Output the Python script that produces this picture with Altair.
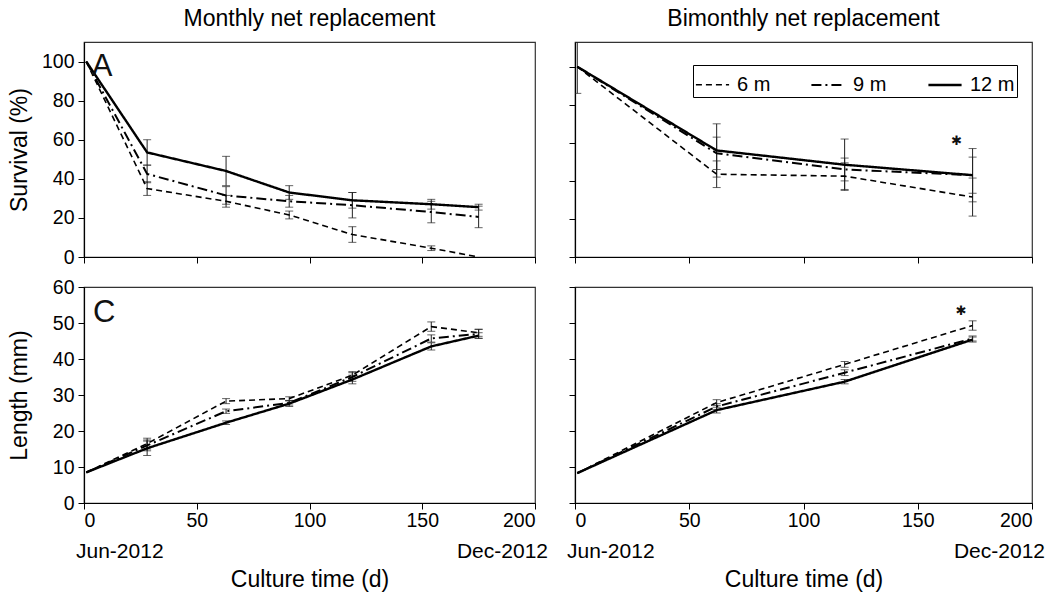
import altair as alt
import pandas as pd

FONT = "Liberation Sans"
series = ["6 m", "9 m", "12 m"]

# ---- Survival, monthly net replacement (A)
days_m = [1, 28, 63, 91, 119, 154, 175]
surv_m_6 = [100, 35, 28.5, 21.5, 11.5, 4.5, 0]
surv_m_9 = [100, 42.5, 31.5, 28.5, 26.5, 23, 20.5]
surv_m_12 = [100, 53.5, 44, 33, 29, 27, 25.5]
surv_m_6_err = [0, 3.5, 3, 2, 4, 1.2, 0]
surv_m_9_err = [0, 4.5, 4.5, 3, 6.5, 5.5, 5.5]
surv_m_12_err = [0, 6.5, 7.5, 3.5, 4, 2.5, 1.5]

# ---- Survival, bimonthly net replacement
days_b = [1, 62, 118, 174]
surv_b_6 = [100, 43.5, 42.5, 31.5]
surv_b_9 = [100, 54.5, 46, 43]
surv_b_12 = [100, 56, 48.5, 43]
surv_b_6_err = [0, 7, 7, 10]
surv_b_9_err = [0, 8.5, 6, 9.5]
surv_b_12_err = [14, 14, 13.5, 14]

# ---- Length, monthly (C)
len_m_6 = [8.5, 16.5, 28.3, 29, 35.5, 49, 47.3]
len_m_9 = [8.5, 16, 25.5, 27.8, 35, 45.7, 47]
len_m_12 = [8.5, 15.2, 22.3, 27.6, 34.3, 43.5, 46.5]
len_m_6_err = [0, 1.5, 0.7, 0.5, 1, 1.3, 1]
len_m_9_err = [0, 1.5, 0.6, 0.6, 1.2, 1, 1.2]
len_m_12_err = [0, 2, 0.5, 0.8, 1.2, 1, 0.8]

# ---- Length, bimonthly
len_b_6 = [8.3, 27.9, 38.5, 49.3]
len_b_9 = [8.3, 26.8, 36.2, 45.7]
len_b_12 = [8.3, 25.8, 33.7, 45.4]
len_b_6_err = [0, 0.8, 0.8, 1.3]
len_b_9_err = [0, 0.8, 0.8, 0.7]
len_b_12_err = [0, 0.8, 0.6, 0.7]

# annotations
letters = ["A", "C"]
letter_days = [8, 9]
letter_vals = [97, 52.8]
star_days = [167, 169]
star_vals = [61, 53.3]
date_labels = ["Jun-2012", "Dec-2012"]
date_days = [0, 200]
x_ticks = [0, 50, 100, 150, 200]


def long_df(days, vals, errs):
    rows = []
    for s, v, e in zip(series, vals, errs):
        for d, y, er in zip(days, v, e):
            rows.append(dict(depth=s, day=d, value=y, lo=y - er, hi=y + er, err=er))
    return pd.DataFrame(rows)


dash_enc = alt.StrokeDash(
    "depth:N",
    scale=alt.Scale(domain=series, range=[[6, 4], [10, 4, 2, 4], [1, 0]]),
    legend=alt.Legend(
        orient="none", legendX=609, legendY=23, direction="horizontal", title=None,
        strokeColor="black", fillColor="white", padding=2,
        labelFontSize=20, labelFont=FONT, labelColor="black",
        symbolType="stroke", symbolSize=1100, symbolStrokeWidth=2,
        symbolStrokeColor="black", columnPadding=36, labelOffset=7,
    ),
)
width_enc = alt.StrokeWidth(
    "depth:N", scale=alt.Scale(domain=series, range=[1.6, 2.4, 2.6]), legend=None
)


def panel(df, ydom, yvals, width, height, show_ylab, ytitle, show_xlab,
          title=None, letter=None, star=None):
    xscale = alt.Scale(domain=[0, 200], nice=False)
    yscale = alt.Scale(domain=ydom, nice=False)
    xaxis = alt.Axis(values=x_ticks, labels=show_xlab, labelPadding=2,
                     title="Culture time (d)" if show_xlab else None, titlePadding=39)
    yaxis = alt.Axis(values=yvals, labels=show_ylab, labelPadding=4,
                     title=ytitle if show_ylab else None, titleX=-53)

    def X(f):
        return alt.X(f, scale=xscale, axis=xaxis)

    def Y(f):
        return alt.Y(f, scale=yscale, axis=yaxis)

    base = alt.Chart(df)
    lines = base.mark_line(color="black", clip=True).encode(
        x=X("day:Q"), y=Y("value:Q"), strokeDash=dash_enc, strokeWidth=width_enc
    )
    err = base.transform_filter("datum.err > 0")
    rules = err.mark_rule(color="#222", strokeWidth=1, clip=True).encode(
        x=X("day:Q"), y=Y("lo:Q"), y2="hi:Q"
    )
    cap_lo = err.mark_tick(color="#222", thickness=1, size=8, orient="horizontal",
                           clip=True).encode(x=X("day:Q"), y=Y("lo:Q"))
    cap_hi = err.mark_tick(color="#222", thickness=1, size=8, orient="horizontal",
                           clip=True).encode(x=X("day:Q"), y=Y("hi:Q"))
    layers = [rules, cap_lo, cap_hi, lines]
    if letter is not None:
        ldf = pd.DataFrame({"t": [letters[letter]], "x": [letter_days[letter]],
                            "y": [letter_vals[letter]]})
        layers.append(alt.Chart(ldf).mark_text(fontSize=31, font=FONT, color="#111",
                                               baseline="middle", align="center").encode(
            x=X("x:Q"), y=Y("y:Q"), text="t:N"))
    if star is not None:
        sdf = pd.DataFrame({"t": ["✱"], "x": [star_days[star]], "y": [star_vals[star]]})
        layers.append(alt.Chart(sdf).mark_text(fontSize=13, font="DejaVu Sans",
                                               color="#111", baseline="middle").encode(
            x=X("x:Q"), y=Y("y:Q"), text="t:N"))
    if show_xlab:
        d0 = pd.DataFrame({"t": [date_labels[0]], "x": [date_days[0]]})
        d1 = pd.DataFrame({"t": [date_labels[1]], "x": [date_days[1]]})
        layers.append(alt.Chart(d0).mark_text(fontSize=21, font=FONT, color="black",
                                              align="left", dx=-8, baseline="middle").encode(
            x=X("x:Q"), y=alt.value(height + 49), text="t:N"))
        layers.append(alt.Chart(d1).mark_text(fontSize=21, font=FONT, color="black",
                                              align="right", dx=13, baseline="middle").encode(
            x=X("x:Q"), y=alt.value(height + 49), text="t:N"))
    ch = alt.layer(*layers).properties(width=width, height=height)
    if title is not None:
        ch = ch.properties(title=alt.TitleParams(title, fontSize=23, font=FONT,
                                                 fontWeight="normal", color="black",
                                                 offset=11))
    return ch


A = panel(long_df(days_m, [surv_m_6, surv_m_9, surv_m_12],
                  [surv_m_6_err, surv_m_9_err, surv_m_12_err]),
          [0, 110], [0, 20, 40, 60, 80, 100], 451, 215, True, "Survival  (%)", False,
          title="Monthly net replacement", letter=0)
B = panel(long_df(days_b, [surv_b_6, surv_b_9, surv_b_12],
                  [surv_b_6_err, surv_b_9_err, surv_b_12_err]),
          [0, 113], [0, 20, 40, 60, 80, 100], 457, 215, False, "", False,
          title="Bimonthly net replacement", star=0)
C = panel(long_df(days_m, [len_m_6, len_m_9, len_m_12],
                  [len_m_6_err, len_m_9_err, len_m_12_err]),
          [0, 60], [0, 10, 20, 30, 40, 50, 60], 451, 216, True, "Length (mm)", True,
          letter=1)
D = panel(long_df(days_b, [len_b_6, len_b_9, len_b_12],
                  [len_b_6_err, len_b_9_err, len_b_12_err]),
          [0, 60], [0, 10, 20, 30, 40, 50, 60], 457, 216, False, "", True, star=1)

chart = alt.concat(A, B, C, D, columns=2, spacing={"row": 30, "column": 40},
                   bounds="flush").properties(
    padding={"left": 7, "top": 7, "right": 5, "bottom": 5}, background="white"
).configure_view(stroke="#333", strokeWidth=1.2).configure_axis(
    domainColor="black", domainWidth=1.2, tickColor="black", tickSize=6,
    labelFontSize=19.5, labelFont=FONT, labelColor="black",
    titleFontSize=23, titleFont=FONT, titleFontWeight="normal", titleColor="black",
    grid=False,
)

chart.save("out.html", embed_options={"renderer": "svg", "actions": False})
